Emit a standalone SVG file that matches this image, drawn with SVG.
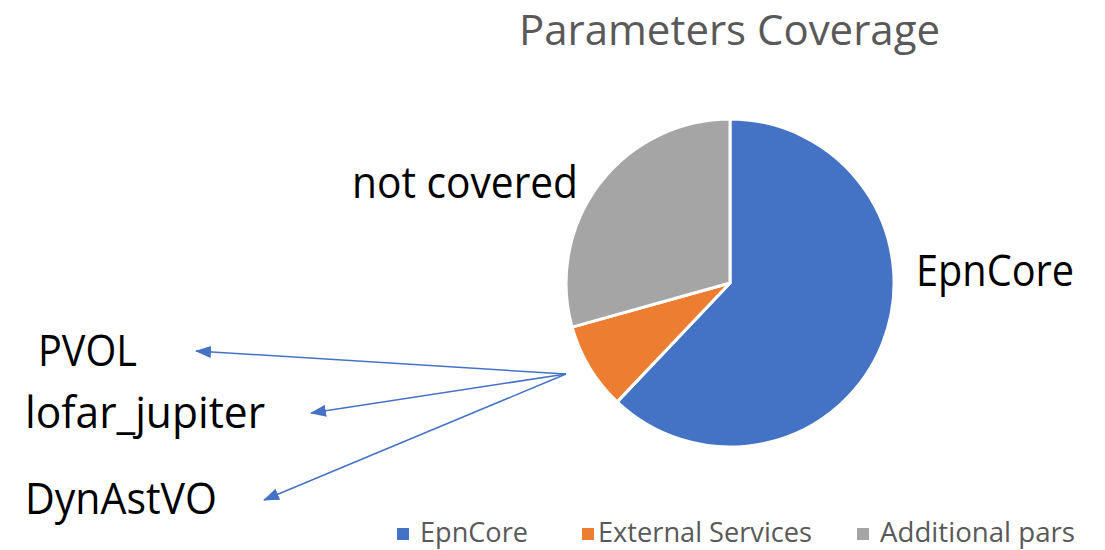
<svg xmlns="http://www.w3.org/2000/svg" width="1105" height="550" viewBox="0 0 1105 550">
  <style>
    .t { font-family: "Open Sans", "Noto Sans", "Liberation Sans", sans-serif; }
    .title { font-size: 42px; fill: #595959; }
    .lbl { font-size: 43px; fill: #000000; }
    .leg { font-size: 28px; fill: #595959; }
    .slice { stroke: #ffffff; stroke-width: 3; stroke-linejoin: round; }
    .conn { stroke: #4472C4; stroke-width: 1.5; fill: none; marker-end: url(#arr); }
  </style>
  <defs>
    <marker id="arr" markerUnits="userSpaceOnUse" markerWidth="16" markerHeight="12" refX="15" refY="6" orient="auto">
      <path d="M0,0 L16,6 L0,12 Z" fill="#4472C4"/>
    </marker>
  </defs>
  <rect width="1105" height="550" fill="#ffffff"/>
  <text class="t title" x="519" y="45" textLength="421" lengthAdjust="spacingAndGlyphs">Parameters Coverage</text>

  <g id="pie">
    <path id="slice-epncore" class="slice" fill="#4472C4" d="M730,283 L730,119 A164,164 0 1,1 617.1,401.9 Z"/>
    <path id="slice-external" class="slice" fill="#ED7D31" d="M730,283 L617.1,401.9 A164,164 0 0,1 572.1,327.1 Z"/>
    <path id="slice-additional" class="slice" fill="#A5A5A5" d="M730,283 L572.1,327.1 A164,164 0 0,1 730,119 Z"/>
  </g>

  <g id="label-notcovered"><text class="t lbl" x="352" y="198" textLength="226" lengthAdjust="spacingAndGlyphs">not covered</text></g>
  <g id="label-epncore"><text class="t lbl" x="916" y="286" textLength="158" lengthAdjust="spacingAndGlyphs">EpnCore</text></g>
  <g id="node-pvol"><text class="t lbl" x="38" y="366" textLength="99" lengthAdjust="spacingAndGlyphs">PVOL</text></g>
  <g id="node-lofar"><text class="t lbl" x="25" y="428" textLength="240" lengthAdjust="spacingAndGlyphs">lofar_jupiter</text></g>
  <g id="node-dynastvo"><text class="t lbl" x="25" y="514" textLength="192" lengthAdjust="spacingAndGlyphs">DynAstVO</text></g>

  <g id="connectors">
    <line class="conn" x1="566" y1="374" x2="196" y2="351"/>
    <line class="conn" x1="566" y1="374" x2="311" y2="413"/>
    <line class="conn" x1="566" y1="374" x2="264" y2="500"/>
  </g>

  <g id="legend">
    <rect x="397" y="528" width="12" height="12" fill="#4472C4"/>
    <text class="t leg" x="420" y="542" textLength="108" lengthAdjust="spacingAndGlyphs">EpnCore</text>
    <rect x="582" y="528" width="12" height="12" fill="#ED7D31"/>
    <text class="t leg" x="598" y="542" textLength="214" lengthAdjust="spacingAndGlyphs">External Services</text>
    <rect x="857" y="528" width="12" height="12" fill="#A5A5A5"/>
    <text class="t leg" x="880" y="542" textLength="195" lengthAdjust="spacingAndGlyphs">Additional pars</text>
  </g>
</svg>
